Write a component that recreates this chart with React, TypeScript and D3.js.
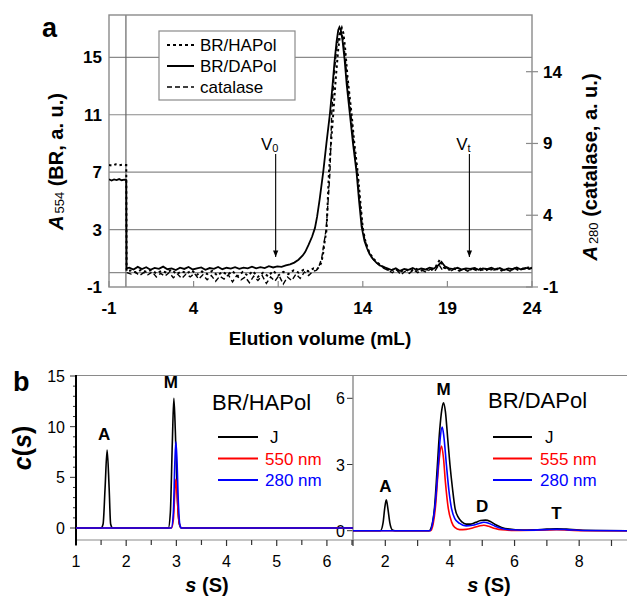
import React from "react";
import * as d3 from "d3";

const FONT = "'Liberation Sans', Arial, Helvetica, sans-serif";

// ---------- Panel a data (elution volume mL, absorbance a.u.) ----------
const xTicksA = [-1, 4, 9, 14, 19, 24];
const yTicksLeftA = [-1, 3, 7, 11, 15];
const yTicksRightA = [-1, 4, 9, 14];
const gridYA = [0, 3, 7, 11, 15];
const legendA = ["BR/HAPol", "BR/DAPol", "catalase"];

const brDAPol: [number, number][] = [
  [-1, 6.5], [-0.85, 6.42], [-0.7, 6.5], [-0.55, 6.45], [-0.4, 6.52], [-0.25, 6.44], [-0.1, 6.48], [0.02, 6.45], [0.04, 0.3],
  [0.2, 0.35], [0.45, 0.22], [0.7, 0.4], [0.95, 0.25], [1.2, 0.38], [1.45, 0.2], [1.7, 0.33], [1.95, 0.27], [2.2, 0.42], [2.45, 0.24],
  [2.7, 0.3], [2.95, 0.18], [3.2, 0.35], [3.45, 0.26], [3.7, 0.4], [3.95, 0.22], [4.2, 0.3], [4.45, 0.36], [4.7, 0.2], [4.95, 0.32],
  [5.2, 0.26], [5.45, 0.4], [5.7, 0.24], [5.95, 0.34], [6.2, 0.28], [6.45, 0.38], [6.7, 0.26], [6.95, 0.35], [7.2, 0.3], [7.45, 0.42],
  [7.7, 0.3], [7.95, 0.38], [8.2, 0.32], [8.45, 0.45], [8.7, 0.36], [8.95, 0.44], [9.2, 0.4], [9.45, 0.5], [9.7, 0.58],
  [9.95, 0.7], [10.2, 0.9], [10.45, 1.2], [10.6, 1.45], [10.8, 1.95], [11.0, 2.5], [11.17, 3.1], [11.3, 3.9], [11.45, 5.1], [11.66, 7.0],
  [11.85, 9.0], [12.06, 11.1], [12.2, 12.9], [12.33, 14.7], [12.45, 16.1], [12.55, 16.9], [12.62, 17.1], [12.7, 16.9], [12.8, 16.2],
  [12.92, 14.9], [13.05, 13.1], [13.24, 11.0], [13.42, 9.0], [13.63, 7.0], [13.78, 5.0], [13.93, 3.2], [14.1, 2.2], [14.25, 1.7],
  [14.4, 1.3], [14.6, 0.95], [14.8, 0.7], [15.0, 0.52], [15.2, 0.4], [15.45, 0.3],
  [15.7, 0.18], [15.95, 0.3], [16.2, 0.12], [16.45, 0.26], [16.7, 0.2], [16.95, 0.32], [17.2, 0.18], [17.45, 0.3], [17.7, 0.22],
  [17.95, 0.35], [18.2, 0.28], [18.45, 0.5], [18.65, 0.75], [18.85, 0.45], [19.1, 0.3], [19.35, 0.25], [19.6, 0.34], [19.85, 0.22],
  [20.1, 0.3], [20.35, 0.26], [20.6, 0.33], [20.85, 0.2], [21.1, 0.3], [21.35, 0.24], [21.6, 0.35], [21.85, 0.22], [22.1, 0.32],
  [22.35, 0.18], [22.6, 0.3], [22.85, 0.24], [23.1, 0.36], [23.35, 0.22], [23.6, 0.33], [23.85, 0.28], [24, 0.36],
];

const brHAPol: [number, number][] = [
  [-1, 7.5], [-0.8, 7.45], [-0.6, 7.55], [-0.4, 7.48], [-0.2, 7.52], [0.02, 7.5], [0.04, 0.1],
  [0.3, 0.15], [0.6, 0.0], [0.9, 0.2], [1.2, 0.05], [1.5, 0.18], [1.8, -0.05], [2.1, 0.12], [2.4, 0.0], [2.7, 0.2], [3.0, -0.1],
  [3.3, 0.1], [3.6, -0.05], [3.9, 0.15], [4.2, -0.15], [4.5, 0.08], [4.8, -0.1], [5.1, 0.12], [5.4, -0.2], [5.7, 0.05], [6.0, -0.15],
  [6.3, 0.1], [6.6, -0.25], [6.9, 0.05], [7.2, -0.2], [7.5, 0.1], [7.8, -0.3], [8.1, 0.0], [8.4, -0.25], [8.7, 0.12], [9.0, -0.2],
  [9.3, 0.05], [9.6, -0.1], [9.9, 0.15], [10.2, 0.0], [10.5, 0.2], [10.8, 0.1], [11.1, 0.3], [11.3, 0.25], [11.45, 0.45], [11.55, 0.7],
  [11.65, 1.3], [11.75, 2.2], [11.86, 3.0], [11.93, 5.0], [12.0, 7.0], [12.12, 9.0], [12.25, 11.0], [12.4, 13.5], [12.55, 15.6],
  [12.68, 16.8], [12.76, 17.05], [12.85, 16.7], [12.95, 15.7], [13.1, 13.6], [13.34, 11.0], [13.5, 9.0], [13.7, 7.0], [13.85, 5.0],
  [14.0, 3.1], [14.15, 2.2], [14.35, 1.5], [14.6, 1.0], [14.85, 0.7], [15.1, 0.48], [15.35, 0.32],
  [15.6, 0.1], [15.9, 0.28], [16.2, 0.05], [16.5, 0.22], [16.8, 0.1], [17.1, 0.3], [17.4, 0.12], [17.7, 0.25], [18.0, 0.15],
  [18.3, 0.4], [18.55, 0.9], [18.8, 0.35], [19.1, 0.2], [19.4, 0.28], [19.7, 0.15], [20.0, 0.25], [20.3, 0.2], [20.6, 0.3],
  [20.9, 0.15], [21.2, 0.28], [21.5, 0.18], [21.8, 0.3], [22.1, 0.14], [22.4, 0.26], [22.7, 0.16], [23.0, 0.3], [23.3, 0.2],
  [23.6, 0.32], [24, 0.38],
];

const catalase: [number, number][] = [
  [0.05, 0.0], [0.3, -0.1], [0.55, 0.05], [0.8, -0.2], [1.05, 0.0], [1.3, -0.15], [1.55, 0.05], [1.8, -0.3], [2.05, -0.05],
  [2.3, -0.25], [2.55, 0.0], [2.8, -0.35], [3.05, -0.1], [3.3, -0.4], [3.55, -0.1], [3.8, -0.3], [4.05, -0.05], [4.3, -0.45],
  [4.55, -0.15], [4.8, -0.5], [5.05, -0.2], [5.3, -0.6], [5.55, -0.25], [5.8, -0.45], [6.05, -0.15], [6.3, -0.65], [6.55, -0.2],
  [6.8, -0.5], [7.05, -0.3], [7.3, -0.7], [7.55, -0.25], [7.8, -0.55], [8.05, -0.2], [8.3, -0.75], [8.55, -0.3], [8.8, -0.6],
  [9.05, -0.2], [9.3, -0.8], [9.55, -0.3], [9.8, -0.55], [10.05, -0.1], [10.3, -0.4], [10.55, 0.05], [10.8, -0.2], [11.05, 0.1],
  [11.25, 0.15], [11.4, 0.4], [11.57, 1.0], [11.7, 2.0], [11.83, 3.0], [11.95, 5.0], [12.06, 7.0], [12.16, 11.0], [12.3, 13.8],
  [12.45, 15.6], [12.6, 16.6], [12.7, 16.8], [12.8, 16.5], [12.92, 15.4], [13.08, 13.4], [13.3, 11.0], [13.47, 9.0], [13.66, 7.0],
  [13.82, 5.0], [13.97, 3.2], [14.12, 2.3], [14.3, 1.6], [14.5, 1.1], [14.75, 0.75], [15.0, 0.5], [15.25, 0.3], [15.5, 0.15],
  [15.75, 0.0], [16.0, 0.2], [16.25, -0.15], [16.5, 0.1], [16.75, -0.05], [17.0, 0.2], [17.25, 0.0], [17.5, 0.18], [17.75, 0.02],
  [18.0, 0.25], [18.25, 0.1], [18.5, 0.55], [18.7, 0.2], [18.95, 0.35], [19.2, 0.1], [19.45, 0.3], [19.7, 0.12], [19.95, 0.25],
  [20.2, 0.1], [20.45, 0.28], [20.7, 0.15], [20.95, 0.3], [21.2, 0.1], [21.45, 0.25], [21.7, 0.15], [21.95, 0.3], [22.2, 0.12],
  [22.45, 0.28], [22.7, 0.1], [22.95, 0.32], [23.2, 0.15], [23.45, 0.3], [23.7, 0.2], [24, 0.3],
];

const markersA = [
  { x: 8.85, label: "V", sub: "0" },
  { x: 20.3, label: "V", sub: "t" },
];

// ---------- Panel b data (s in Svedberg, c(s)) ----------
const xTicksBL = [1, 2, 3, 4, 5, 6];
const yTicksBL = [0, 5, 10, 15];
const xTicksBR = [2, 4, 6, 8];
const yTicksBR = [0, 3, 6];

const haJ: [number, number][] = [
  [1, 0], [1.5, 0], [1.54, 0.4], [1.58, 4.0], [1.62, 7.7], [1.66, 4.0], [1.69, 0.4], [1.73, 0], [2.84, 0], [2.88, 1.5],
  [2.92, 8.5], [2.95, 12.8], [2.98, 9.5], [3.02, 3.0], [3.06, 0.4], [3.1, 0], [6.52, 0],
];
const ha550: [number, number][] = [
  [1, 0], [2.9, 0], [2.94, 0.8], [2.97, 3.5], [2.99, 4.8], [3.01, 3.8], [3.04, 1.2], [3.08, 0.1], [3.12, 0], [6.52, 0],
];
const ha280: [number, number][] = [
  [1, 0], [2.9, 0], [2.94, 1.5], [2.97, 6.5], [2.99, 8.5], [3.01, 7.0], [3.04, 2.5], [3.07, 0.3], [3.1, 0], [6.52, 0],
];

const daJ: [number, number][] = [
  [1, 0], [1.85, 0], [1.93, 0.35], [1.98, 1.0], [2.03, 1.4], [2.08, 1.0], [2.14, 0.35], [2.22, 0.03], [2.3, 0], [3.35, 0],
  [3.45, 0.3], [3.52, 1.0], [3.6, 2.7], [3.68, 4.5], [3.75, 5.5], [3.8, 5.8], [3.86, 5.4], [3.93, 4.2], [4.0, 3.0], [4.08, 1.9],
  [4.16, 1.0], [4.26, 0.6], [4.37, 0.4], [4.5, 0.3], [4.65, 0.3], [4.8, 0.38], [4.95, 0.46], [5.1, 0.48], [5.25, 0.42], [5.4, 0.28],
  [5.6, 0.15], [5.85, 0.07], [6.2, 0.03], [6.6, 0.04], [7.0, 0.07], [7.3, 0.09], [7.6, 0.07], [8.0, 0.03], [8.5, 0.01], [9.5, 0],
];
const da280: [number, number][] = [
  [1, 0], [3.38, 0], [3.47, 0.4], [3.55, 1.3], [3.64, 3.0], [3.7, 4.2], [3.76, 4.7], [3.81, 4.3], [3.89, 3.0], [3.97, 1.8],
  [4.05, 1.0], [4.15, 0.55], [4.3, 0.33], [4.5, 0.22], [4.7, 0.25], [4.9, 0.33], [5.05, 0.38], [5.2, 0.34], [5.4, 0.2], [5.6, 0.1],
  [5.9, 0.04], [6.3, 0.02], [7.0, 0.05], [7.3, 0.06], [7.6, 0.05], [8.2, 0.01], [9.5, 0],
];
const da555: [number, number][] = [
  [1, 0], [3.4, 0], [3.48, 0.3], [3.56, 1.2], [3.62, 2.4], [3.68, 3.4], [3.74, 3.84], [3.8, 3.3], [3.86, 2.2], [3.95, 1.0],
  [4.05, 0.4], [4.15, 0.15], [4.3, 0.05], [4.5, 0.06], [4.7, 0.12], [4.9, 0.21], [5.05, 0.25], [5.2, 0.2], [5.4, 0.1], [5.6, 0.04],
  [6.0, 0.01], [7.0, 0.03], [7.3, 0.04], [7.7, 0.02], [8.2, 0], [9.5, 0],
];

const peaksBL = [
  { s: 1.62, v: 7.7, label: "A" },
  { s: 2.95, v: 12.8, label: "M" },
];
const peaksBR = [
  { s: 2.03, v: 1.4, label: "A" },
  { s: 3.8, v: 5.8, label: "M" },
  { s: 5.12, v: 0.48, label: "D" },
  { s: 7.3, v: 0.09, label: "T" },
];
const legendBL = ["J", "550 nm", "280 nm"];
const legendBR = ["J", "555 nm", "280 nm"];
const seriesColors = ["#000000", "#ff0000", "#0000ff"];

export default function App() {
  // panel a scales
  const xA = d3.scaleLinear().domain([-1, 24]).range([109, 532]);
  const yA = d3.scaleLinear().domain([-1, 17.95]).range([287, 15]);
  const lineA = d3.line<[number, number]>().x((d) => xA(d[0])).y((d) => yA(d[1]));

  // panel b scales
  const xBL = d3.scaleLinear().domain([1, 6.52]).range([76, 353]);
  const yBL = d3.scaleLinear().domain([0, 15]).range([528, 376]);
  const xBR = d3.scaleLinear().domain([1, 9.48]).range([353, 627]);
  const yBR = d3.scaleLinear().domain([0, 6]).range([530.7, 398.3]);
  const lineBL = d3.line<[number, number]>().x((d) => xBL(d[0])).y((d) => yBL(d[1])).curve(d3.curveMonotoneX);
  const lineBR = d3.line<[number, number]>().x((d) => xBR(d[0])).y((d) => yBR(d[1])).curve(d3.curveMonotoneX);

  const gray = "#8a8a8a";
  const axisB = 540;

  const minorBL = d3.range(1, 6.51, 0.5);
  const minorBR = d3.range(1, 9.5, 1);
  const minorYBL = d3.range(0, 15.1, 1);

  const legendStylesA = [
    { dash: "3,3", w: 2 },
    { dash: "none", w: 2 },
    { dash: "5,3", w: 1.5 },
  ];

  return (
    <svg width={627} height={599} style={{ position: "absolute", left: 0, top: 0, background: "#fff" }} fontFamily={FONT}>
      <defs>
        <clipPath id="clipA"><rect x={109} y={15} width={423} height={272} /></clipPath>
        <clipPath id="clipBL"><rect x={76} y={375} width={277} height={165} /></clipPath>
        <clipPath id="clipBR"><rect x={353} y={375} width={274} height={165} /></clipPath>
        <marker id="arrow" viewBox="0 0 10 10" refX={10} refY={5} markerWidth={6} markerHeight={6} orient="auto">
          <path d="M0,1 L10,5 L0,9 z" fill="#000" />
        </marker>
      </defs>

      {/* ================= Panel a ================= */}
      <text x={42} y={37} fontSize={27} fontWeight="bold">a</text>

      {gridYA.map((v) => (
        <line key={"g" + v} x1={xA(-1)} x2={xA(24)} y1={yA(v)} y2={yA(v)} stroke={gray} strokeWidth={1.2} />
      ))}
      <line x1={xA(0)} x2={xA(0)} y1={yA(17.95)} y2={yA(-1)} stroke="#666" strokeWidth={1.2} />
      <rect x={109} y={15} width={423} height={272} fill="none" stroke={gray} strokeWidth={1.4} />

      {/* bottom ticks inward */}
      {xTicksA.map((t) => (
        <g key={"xt" + t}>
          <line x1={xA(t)} x2={xA(t)} y1={287} y2={281} stroke={gray} strokeWidth={1.2} />
          <text x={xA(t)} y={314} fontSize={17} fontWeight="bold" textAnchor="middle">{t}</text>
        </g>
      ))}
      {yTicksLeftA.map((t) => (
        <text key={"yl" + t} x={102} y={yA(t) + 6} fontSize={17} fontWeight="bold" textAnchor="end">{t}</text>
      ))}
      {yTicksRightA.map((t) => (
        <g key={"yr" + t}>
          <line x1={526} x2={538} y1={yA(t)} y2={yA(t)} stroke={gray} strokeWidth={1.2} />
          <text x={543} y={yA(t) + 6} fontSize={17} fontWeight="bold">{t}</text>
        </g>
      ))}

      <g clipPath="url(#clipA)" fill="none">
        <path d={lineA(catalase) || ""} stroke="#000" strokeWidth={1.4} strokeDasharray="5,3" />
        <path d={lineA(brHAPol) || ""} stroke="#000" strokeWidth={2} strokeDasharray="2.5,3" />
        <path d={lineA(brDAPol) || ""} stroke="#000" strokeWidth={1.8} />
      </g>

      {/* V0 / Vt markers */}
      {markersA.map((m) => (
        <g key={m.sub}>
          <line x1={xA(m.x)} x2={xA(m.x)} y1={154} y2={257} stroke="#000" strokeWidth={1.1} markerEnd="url(#arrow)" />
          <text x={xA(m.x) - 6} y={150} fontSize={17} textAnchor="middle">
            {m.label}
            <tspan fontSize={11} dy={2}>{m.sub}</tspan>
          </text>
        </g>
      ))}

      {/* legend a */}
      <rect x={159} y={31} width={136} height={69} fill="#fff" stroke={gray} strokeWidth={1.2} />
      {legendA.map((name, i) => (
        <g key={name}>
          <line x1={167} x2={194} y1={45 + i * 21} y2={45 + i * 21} stroke="#000"
            strokeWidth={legendStylesA[i].w} strokeDasharray={legendStylesA[i].dash} />
          <text x={200} y={51 + i * 21} fontSize={17}>{name}</text>
        </g>
      ))}

      {/* axis titles a */}
      <text x={320} y={345} fontSize={19} fontWeight="bold" textAnchor="middle">Elution volume (mL)</text>
      <text transform="translate(63,161.5) rotate(-90)" fontSize={20} fontWeight="bold" textAnchor="middle">
        <tspan fontStyle="italic">A</tspan>
        <tspan fontSize={13} fontWeight="normal" dx={2} dy={1}>554</tspan>
        <tspan dy={-1}> (BR, a. u.)</tspan>
      </text>
      <text transform="translate(597,167) rotate(-90)" fontSize={20} fontWeight="bold" textAnchor="middle">
        <tspan fontStyle="italic">A</tspan>
        <tspan fontSize={13} fontWeight="normal" dx={2} dy={1}>280</tspan>
        <tspan dy={-1}> (catalase, a. u.)</tspan>
      </text>

      {/* ================= Panel b ================= */}
      <text x={13} y={391} fontSize={27} fontWeight="bold">b</text>

      <line x1={76} x2={627} y1={375.5} y2={375.5} stroke={gray} strokeWidth={1.2} />
      <line x1={76} x2={627} y1={axisB} y2={axisB} stroke={gray} strokeWidth={1.2} />

      {/* left panel axes */}
      {minorBL.map((t) => (
        <line key={"bl" + t} x1={xBL(t)} x2={xBL(t)} y1={axisB} y2={axisB + (Number.isInteger(t) ? 6 : 5)} stroke="#333" strokeWidth={1.2} />
      ))}
      {xTicksBL.map((t) => (
        <text key={"blt" + t} x={xBL(t)} y={567} fontSize={16} textAnchor="middle">{t}</text>
      ))}
      {minorYBL.map((t) => (
        <line key={"byl" + t} x1={76} x2={76 - (t % 5 === 0 ? 6 : 3)} y1={yBL(t)} y2={yBL(t)} stroke="#333" strokeWidth={1} />
      ))}
      {yTicksBL.map((t) => (
        <text key={"bylt" + t} x={65} y={yBL(t) + 6} fontSize={16} textAnchor="end">{t}</text>
      ))}
      <line x1={76} x2={76} y1={375} y2={axisB + 5} stroke="#000" strokeWidth={2} />

      {/* right panel axes */}
      {minorBR.map((t) => (
        <line key={"br" + t} x1={xBR(t)} x2={xBR(t)} y1={axisB} y2={axisB + 6} stroke="#333" strokeWidth={1.2} />
      ))}
      {xTicksBR.map((t) => (
        <text key={"brt" + t} x={xBR(t)} y={567} fontSize={16} textAnchor="middle">{t}</text>
      ))}
      {yTicksBR.map((t) => (
        <g key={"byr" + t}>
          <line x1={353} x2={347} y1={yBR(t)} y2={yBR(t)} stroke="#333" strokeWidth={1} />
          <text x={345} y={yBR(t) + 6} fontSize={16} textAnchor="end">{t}</text>
        </g>
      ))}
      <line x1={353} x2={353} y1={375} y2={axisB} stroke={gray} strokeWidth={1.4} />

      {/* curves left */}
      <g clipPath="url(#clipBL)" fill="none" strokeWidth={1.6}>
        <path d={lineBL(haJ) || ""} stroke={seriesColors[0]} />
        <path d={lineBL(ha550) || ""} stroke={seriesColors[1]} />
        <path d={lineBL(ha280) || ""} stroke={seriesColors[2]} />
      </g>
      {/* curves right */}
      <g clipPath="url(#clipBR)" fill="none" strokeWidth={1.6}>
        <path d={lineBR(daJ) || ""} stroke={seriesColors[0]} />
        <path d={lineBR(da555) || ""} stroke={seriesColors[1]} />
        <path d={lineBR(da280) || ""} stroke={seriesColors[2]} />
      </g>

      {/* peak labels */}
      {peaksBL.map((p) => (
        <text key={"pl" + p.label} x={xBL(p.s) - 3} y={yBL(p.v) - 10} fontSize={17} fontWeight="bold" textAnchor="middle">{p.label}</text>
      ))}
      {peaksBR.map((p) => (
        <text key={"pr" + p.label} x={xBR(p.s) + (p.label === "D" ? -4 : p.label === "T" ? 0 : p.label === "M" ? 0 : -1)}
          y={yBR(p.v) - (p.label === "T" ? 10 : 8)} fontSize={17} fontWeight="bold" textAnchor="middle">{p.label}</text>
      ))}

      {/* titles & legends */}
      <text x={212} y={410} fontSize={22}>BR/HAPol</text>
      {legendBL.map((name, i) => (
        <g key={"lbl" + name}>
          <line x1={218} x2={258} y1={437 + i * 21.5} y2={437 + i * 21.5} stroke={seriesColors[i]} strokeWidth={2} />
          <text x={i === 0 ? 270 : 265} y={443 + i * 21.5} fontSize={17} fill={i === 0 ? "#000" : seriesColors[i]}>{name}</text>
        </g>
      ))}
      <text x={488} y={408} fontSize={22}>BR/DAPol</text>
      {legendBR.map((name, i) => (
        <g key={"lbr" + name}>
          <line x1={493} x2={532} y1={437 + i * 21.5} y2={437 + i * 21.5} stroke={seriesColors[i]} strokeWidth={2} />
          <text x={i === 0 ? 545 : 540} y={443 + i * 21.5} fontSize={17} fill={i === 0 ? "#000" : seriesColors[i]}>{name}</text>
        </g>
      ))}

      {/* axis titles b */}
      <text x={207} y={592} fontSize={20} fontWeight="bold" textAnchor="middle">
        <tspan fontStyle="italic">s</tspan> (S)
      </text>
      <text x={489} y={592} fontSize={20} fontWeight="bold" textAnchor="middle">
        <tspan fontStyle="italic">s</tspan> (S)
      </text>
      <text transform="translate(31,448) rotate(-90)" fontSize={25} fontWeight="bold" textAnchor="middle">
        <tspan fontStyle="italic">c</tspan>(<tspan fontStyle="italic">s</tspan>)
      </text>
    </svg>
  );
}
